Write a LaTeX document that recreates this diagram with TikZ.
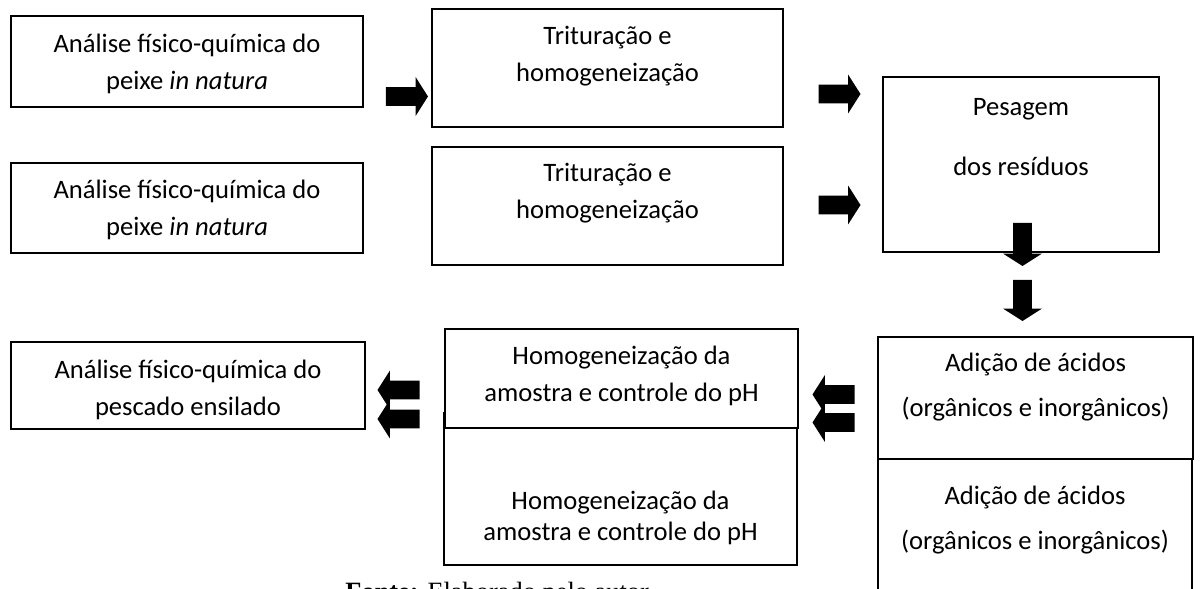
\documentclass[tikz,border=0pt]{standalone}
\usepackage{fontspec}
\setmainfont{Carlito}
\newfontfamily\fontefont{Liberation Serif}
\usetikzlibrary{shapes.arrows}

\tikzset{
  box/.style={draw, fill=white, line width=0.9pt, inner sep=0pt},
  txt/.style={align=center, inner sep=0pt, font=\fontsize{13.3}{18.5}\selectfont},
  blockarrow/.style={single arrow, fill=black, inner xsep=0pt, inner ysep=4.5pt,
    single arrow head extend=5pt, single arrow tip angle=115, minimum height=21pt}
}

\begin{document}
\begin{tikzpicture}[x=0.5pt, y=-0.5pt]
\useasboundingbox (0,0) rectangle (1200,589);

% Analise in natura
\node[box, minimum width=176pt, minimum height=45.5pt] (analise1) at (187,61.5) {};
\node[txt] (analise1txt) at (187,63.5) {Análise físico-química do\\peixe \textit{in natura}};
\node[box, minimum width=176pt, minimum height=45pt] (analise2) at (187,208) {};
\node[txt] (analise2txt) at (187,210) {Análise físico-química do\\peixe \textit{in natura}};

% Trituracao
\node[box, minimum width=175.5pt, minimum height=59pt] (tritur1) at (607.5,68) {};
\node[txt] (tritur1txt) at (607.5,56.5) {Trituração e\\homogeneização};
\node[box, minimum width=175.5pt, minimum height=59pt] (tritur2) at (607.5,206) {};
\node[txt] (tritur2txt) at (607.5,193.5) {Trituração e\\homogeneização};

% Pesagem
\node[box, minimum width=138pt, minimum height=87.5pt] (pesagem) at (1021,164.5) {};
\node[txt, font=\fontsize{13.3}{30}\selectfont] (pesagemtxt) at (1021,137) {Pesagem\\dos resíduos};

% Adicao de acidos
\node[box, minimum width=157pt, minimum height=100pt] (acido2) at (1035,520) {};
\node[txt, font=\fontsize{13.3}{22.5}\selectfont] (acido2txt) at (1035,520.5) {Adição de ácidos\\(orgânicos e inorgânicos)};
\node[box, minimum width=157.5pt, minimum height=61pt] (acido1) at (1035.5,398) {};
\node[txt, font=\fontsize{13.3}{22.5}\selectfont] (acido1txt) at (1035.5,387.5) {Adição de ácidos\\(orgânicos e inorgânicos)};

% Homogeneizacao
\node[box, minimum width=176.5pt, minimum height=76pt] (homog2) at (620.5,489) {};
\node[txt, font=\fontsize{13.3}{15.5}\selectfont] (homog2txt) at (620.5,517.5) {Homogeneização da\\amostra e controle do pH};
\node[box, minimum width=176.5pt, minimum height=49.5pt] (homog1) at (621.5,378.5) {};
\node[txt] (homog1txt) at (621.5,375.5) {Homogeneização da\\amostra e controle do pH};

% Pescado ensilado
\node[box, minimum width=177pt, minimum height=43.5pt] (analise3) at (188,385.5) {};
\node[txt] (analise3txt) at (188,390) {Análise físico-química do\\pescado ensilado};

% Arrows
\node[blockarrow] (s1) at (404,96.5) {};
\node[blockarrow] (s2) at (836.5,94) {};
\node[blockarrow] (s3) at (836.5,205) {};
\node[blockarrow, rotate=-90, minimum height=21.5pt] (s4) at (1022.5,241.5) {};
\node[blockarrow, rotate=-90, minimum height=20.5pt] (s5) at (1022.5,297.5) {};
\node[blockarrow, rotate=180] (s6) at (836.5,394.5) {};
\node[blockarrow, rotate=180] (s7) at (836.5,422.5) {};
\node[blockarrow, rotate=180] (s8) at (401.5,390) {};
\node[blockarrow, rotate=180] (s9) at (401.5,419) {};

% Fonte
\node[anchor=base west, inner sep=0pt, font=\fontefont\fontsize{13.2}{16}\selectfont] (fonte) at (345,600) {\textbf{Fonte:} Elaborado pelo autor};
\end{tikzpicture}
\end{document}
